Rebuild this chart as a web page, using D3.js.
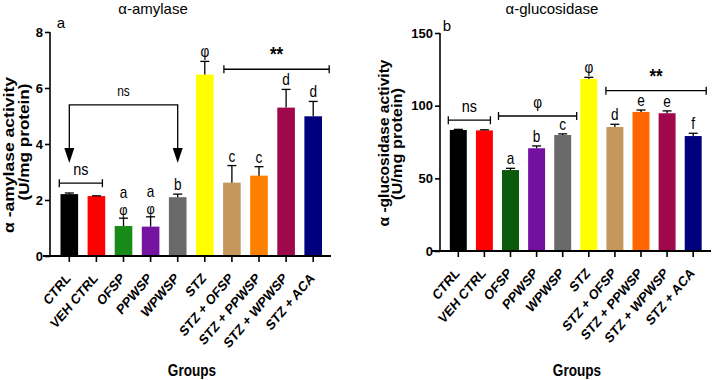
<!DOCTYPE html>
<html>
<head>
<meta charset="utf-8">
<script src="https://cdn.jsdelivr.net/npm/d3@7"></script>
<style>
  body { margin: 0; background: #fff; }
  svg { display: block; font-family: "Liberation Sans", Arial, sans-serif; }
  .tick-label { font-weight: bold; font-size: 13px; }
  .cat-label { font-weight: bold; font-size: 14.3px; }
</style>
</head>
<body>
<svg width="712" height="380"></svg>
<script>
const groups = ['CTRL', 'VEH CTRL', 'OFSP', 'PPWSP', 'WPWSP', 'STZ',
  'STZ + OFSP', 'STZ + PPWSP', 'STZ + WPWSP', 'STZ + ACA'];

// alpha-amylase (U/mg protein)
const amylaseMean = [2.21, 2.14, 1.07, 1.05, 2.10, 6.48, 2.62, 2.87, 5.30, 4.99];
const amylaseErr  = [0.04, 0.01, 0.28, 0.35, 0.11, 0.47, 0.61, 0.32, 0.65, 0.53];
const amylaseLetters = ['', '', 'a', 'a', 'b', 'φ', 'c', 'c', 'd', 'd'];
const amylasePhi = ['', '', 'φ', 'φ', '', '', '', '', '', ''];
const amylaseTicks = [0, 2, 4, 6, 8];

// alpha-glucosidase (U/mg protein)
const glucosidaseMean = [83.3, 83.0, 55.7, 70.7, 79.8, 118.4, 85.3, 95.7, 94.8, 79.1];
const glucosidaseErr  = [0.4, 0.4, 1.2, 1.6, 0.8, 1.1, 1.9, 1.3, 1.6, 1.9];
const glucosidaseLetters = ['', '', 'a', 'b', 'c', 'φ', 'd', 'e', 'e', 'f'];
const glucosidaseTicks = [0, 50, 100, 150];

const amylaseColors = ['#000000', '#ff0000', '#178a17', '#7414a0', '#6a6a6a', '#ffff00',
  '#c4975a', '#ff8000', '#a0084c', '#00007f'];
const glucosidaseColors = ['#000000', '#ff0000', '#0a5a0a', '#7410a0', '#6a6a6a', '#ffff00',
  '#c4975a', '#ff6600', '#a0084c', '#00007f'];

const svg = d3.select('svg');
const squeeze = 0.85; // the source figure is a bit narrower than tall

function drawPanel(cfg) {
  const g = svg.append('g');
  const x = d3.scaleBand().domain(groups).range(cfg.xRange)
    .paddingInner(0.35).paddingOuter(0.175);
  const y = d3.scaleLinear().domain([0, cfg.yMax]).range(cfg.yRange);
  const cx = d => x(d) + x.bandwidth() / 2;

  // bars
  g.selectAll('rect.bar').data(groups).enter().append('rect')
    .attr('x', d => x(d))
    .attr('width', x.bandwidth())
    .attr('y', (d, i) => y(cfg.mean[i]))
    .attr('height', (d, i) => y(0) - y(cfg.mean[i]))
    .attr('fill', (d, i) => cfg.colors[i]);

  // error bars
  const eb = g.selectAll('g.err').data(groups).enter().append('g')
    .attr('stroke', '#000').attr('stroke-width', 1.3);
  eb.append('line')
    .attr('x1', d => cx(d)).attr('x2', d => cx(d))
    .attr('y1', (d, i) => y(cfg.mean[i]))
    .attr('y2', (d, i) => y(cfg.mean[i] + cfg.err[i]));
  eb.append('line')
    .attr('x1', d => cx(d) - 4.5).attr('x2', d => cx(d) + 4.5)
    .attr('y1', (d, i) => y(cfg.mean[i] + cfg.err[i]))
    .attr('y2', (d, i) => y(cfg.mean[i] + cfg.err[i]));

  // y axis
  const yAxis = g.append('g')
    .attr('transform', `translate(${cfg.yAxisX},0)`)
    .call(d3.axisLeft(y).tickValues(cfg.ticks).tickSize(5).tickPadding(2));
  yAxis.select('.domain').attr('stroke-width', 1.6).attr('d', `M0,${y(0)}V${y(cfg.yMax)}`);
  yAxis.selectAll('.tick line').attr('stroke-width', 1.6);
  yAxis.selectAll('.tick text').attr('class', 'tick-label').attr('fill', '#000');

  // x axis
  g.append('line')
    .attr('x1', cfg.xLineStart).attr('x2', cfg.xLineEnd)
    .attr('y1', y(0)).attr('y2', y(0))
    .attr('stroke', '#000').attr('stroke-width', 1.8);
  g.selectAll('line.xt').data(groups).enter().append('line')
    .attr('x1', d => cx(d)).attr('x2', d => cx(d))
    .attr('y1', y(0)).attr('y2', y(0) + 6)
    .attr('stroke', '#000').attr('stroke-width', 1.6);
  g.selectAll('text.cat').data(groups).enter().append('text')
    .attr('class', 'cat-label')
    .attr('text-anchor', 'end')
    .attr('transform', d => `translate(${cx(d) + 2},${y(0) + 23}) scale(${squeeze},1) rotate(-45)`)
    .text(d => d);

  g.append('text')
    .attr('transform', `translate(${cfg.groupsX},376) scale(${squeeze},1)`)
    .attr('text-anchor', 'middle')
    .attr('font-weight', 'bold').attr('font-size', 16)
    .text('Groups');

  // y label, two lines
  cfg.yLabel.forEach((line, k) => {
    g.append('text')
      .attr('transform', `translate(${cfg.yLabelX[k]},${cfg.yLabelY[k]}) scale(${squeeze},1) rotate(-90)`)
      .attr('text-anchor', 'middle')
      .attr('font-weight', 'bold').attr('font-size', 16.5)
      .attr('textLength', cfg.yLabelLen[k]).attr('lengthAdjust', 'spacingAndGlyphs')
      .text(line);
  });

  // title + panel letter
  g.append('text').attr('x', cfg.titleX).attr('y', 14)
    .attr('text-anchor', 'middle').attr('font-size', 15).text(cfg.title);
  g.append('text').attr('x', cfg.panelX).attr('y', cfg.panelY)
    .attr('text-anchor', 'middle').attr('font-size', 15).text(cfg.panel);

  // letters above error bars
  g.selectAll('text.let').data(groups).enter().append('text')
    .attr('transform', (d, i) =>
      `translate(${cx(d)},${y(cfg.mean[i] + cfg.err[i]) - (cfg.phi && cfg.phi[i] ? 20 : 4)}) scale(${squeeze},1)`)
    .attr('text-anchor', 'middle').attr('font-size', 16)
    .text((d, i) => cfg.letters[i]);
  if (cfg.phi) {
    g.selectAll('text.phi').data(groups).enter().append('text')
      .attr('transform', (d, i) =>
        `translate(${cx(d)},${y(cfg.mean[i] + cfg.err[i]) - 3}) scale(${squeeze},1)`)
      .attr('text-anchor', 'middle').attr('font-size', 15)
      .text((d, i) => cfg.phi[i]);
  }

  // brackets
  cfg.brackets.forEach(b => {
    const x1 = cx(groups[b.from]) + b.l, x2 = cx(groups[b.to]) + b.r, yy = y(b.y);
    const bg = g.append('g').attr('stroke', '#000').attr('stroke-width', 1.3);
    bg.append('line').attr('x1', x1).attr('x2', x2).attr('y1', yy).attr('y2', yy);
    bg.append('line').attr('x1', x1).attr('x2', x1).attr('y1', yy - 4).attr('y2', yy + 4);
    bg.append('line').attr('x1', x2).attr('x2', x2).attr('y1', yy - 4).attr('y2', yy + 4);
    g.append('text')
      .attr('transform', `translate(${(x1 + x2) / 2},${yy - 8}) scale(${squeeze},1)`)
      .attr('text-anchor', 'middle').attr('fill', '#000')
      .attr('font-size', b.size).attr('font-weight', b.bold ? 'bold' : 'normal')
      .text(b.label);
  });

  return { g, x, y, cx };
}

const left = drawPanel({
  mean: amylaseMean, err: amylaseErr, letters: amylaseLetters, phi: amylasePhi,
  colors: amylaseColors, ticks: amylaseTicks, yMax: 8,
  xRange: [55.75, 326.75], yRange: [256, 32], yAxisX: 50,
  xLineStart: 43, xLineEnd: 331, groupsX: 192,
  yLabel: ['α -amylase activity', '(U/mg protein)'],
  yLabelX: [14, 29], yLabelY: [155, 142], yLabelLen: [156, 117],
  title: 'α-amylase', titleX: 153, panel: 'a', panelX: 61, panelY: 28,
  brackets: [
    { from: 0, to: 1, y: 2.6, l: -10, r: 6, label: 'ns', size: 17 },
    { from: 6, to: 9, y: 6.67, l: -8, r: 16, label: '**', size: 20, bold: true }
  ]
});

// arrow comparison CTRL vs WPWSP
(function () {
  const { g, y, cx } = left;
  const xa = cx(groups[0]), xb = cx(groups[4]);
  const top = y(5.4), tip = y(3.32);
  g.append('path')
    .attr('d', `M${xa},${tip - 12}V${top}H${xb}V${tip - 12}`)
    .attr('fill', 'none').attr('stroke', '#000').attr('stroke-width', 1.3);
  [xa, xb].forEach(xx => {
    g.append('path')
      .attr('d', `M${xx - 5},${tip - 15}L${xx + 5},${tip - 15}L${xx},${tip}Z`)
      .attr('fill', '#000');
  });
  g.append('text')
    .attr('transform', `translate(${(xa + xb) / 2},${top - 9}) scale(${squeeze},1)`)
    .attr('text-anchor', 'middle').attr('fill', '#000').attr('font-size', 14).text('ns');
})();

drawPanel({
  mean: glucosidaseMean, err: glucosidaseErr, letters: glucosidaseLetters,
  colors: glucosidaseColors, ticks: glucosidaseTicks, yMax: 150,
  xRange: [445.25, 706.25], yRange: [251, 33], yAxisX: 440,
  xLineStart: 432, xLineEnd: 711, groupsX: 577,
  yLabel: ['α -glucosidase activity', '(U/mg protein)'],
  yLabelX: [389, 402], yLabelY: [143, 144], yLabelLen: [167, 112],
  title: 'α-glucosidase', titleX: 552, panel: 'b', panelX: 447, panelY: 31,
  brackets: [
    { from: 0, to: 1, y: 90, l: -10, r: 6, label: 'ns', size: 17 },
    { from: 2, to: 4, y: 92.9, l: -12, r: 14, label: 'φ', size: 16 },
    { from: 6, to: 9, y: 110.3, l: -9, r: 13, label: '**', size: 20, bold: true }
  ]
});
</script>
</body>
</html>
